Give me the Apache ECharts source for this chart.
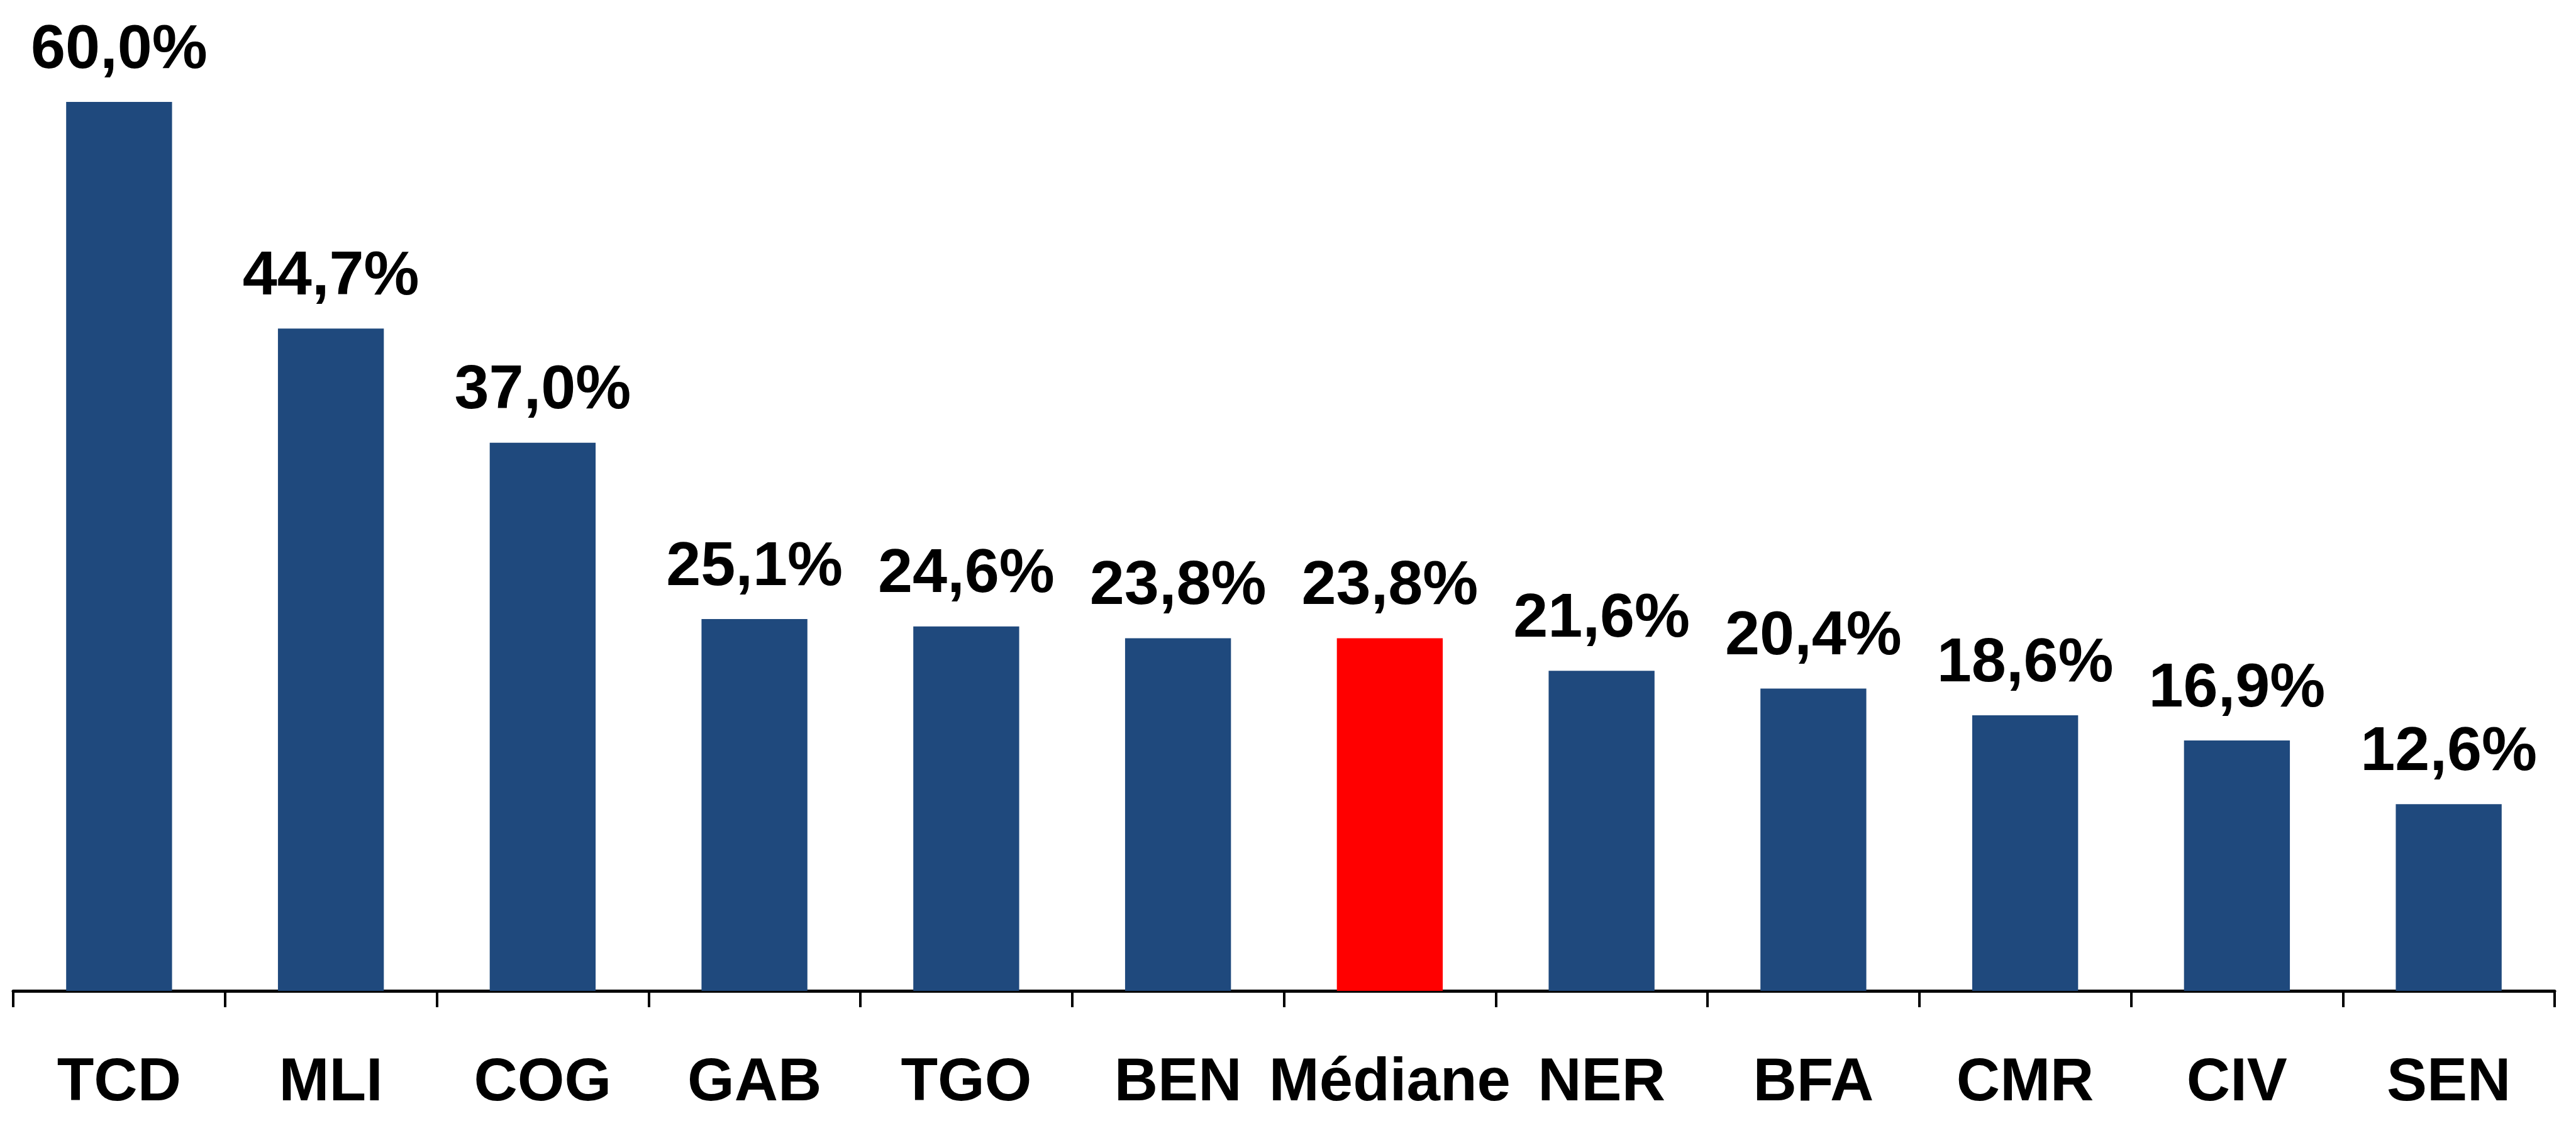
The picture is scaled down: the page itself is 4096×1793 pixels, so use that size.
<!DOCTYPE html>
<html><head><meta charset="utf-8">
<script src="https://cdn.jsdelivr.net/npm/echarts@6/dist/echarts.min.js"></script>
<style>html,body{margin:0;padding:0;background:#fff}#c{width:4096px;height:1793px}</style>
</head><body><div id="c"></div>
<script>
const categories = ['TCD','MLI','COG','GAB','TGO','BEN','Médiane','NER','BFA','CMR','CIV','SEN'];
const values = [60.0, 44.7, 37.0, 25.1, 24.6, 23.8, 23.8, 21.6, 20.4, 18.6, 16.9, 12.6];
const highlight = 'Médiane';
const BLUE = '#1F497D', RED = '#FF0000';
const chart = echarts.init(document.getElementById('c'), null, {renderer:'canvas'});
chart.setOption({
  animation:false,
  grid:{left:21, right:34, top:162, bottom:218, containLabel:false},
  xAxis:{type:'category', data:categories,
    axisLine:{lineStyle:{color:'#000', width:5}},
    axisTick:{show:true, interval:0, length:26, lineStyle:{color:'#000', width:4}},
    axisLabel:{interval:0, color:'#000', fontFamily:'Liberation Sans, Arial', fontWeight:'bold', fontSize:96, margin:100}
  },
  yAxis:{type:'value', min:0, max:60, show:false, splitLine:{show:false}},
  series:[{type:'bar', barCategoryGap:'50%',
    data: values.map((v,i)=>({value:v, itemStyle:{color: categories[i]===highlight?RED:BLUE}})),
    label:{show:true, position:'top', distance:32, color:'#000', fontFamily:'Liberation Sans, Arial', fontWeight:'bold', fontSize:99,
      formatter:p=>p.value.toFixed(1).replace('.',',')+'%'}
  }]
});
</script></body></html>
